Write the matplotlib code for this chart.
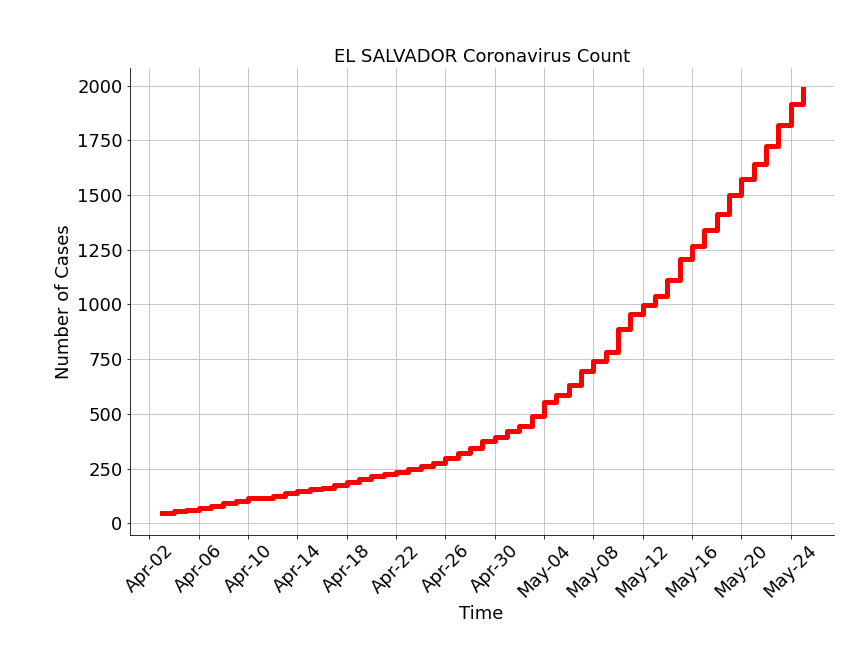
import numpy as np
import pandas as pd
import matplotlib
matplotlib.use("Agg")
import matplotlib.pyplot as plt
import matplotlib.dates as mdates

dates = pd.date_range("2020-04-03", "2020-05-25", freq="D")
cases = [46, 56, 62, 69, 78, 93, 103, 117, 118, 125, 137, 149, 159, 164, 177,
         190, 201, 218, 225, 237, 250, 263, 274, 298, 323, 345, 377, 395,
         424, 446, 490, 555, 587, 633, 695, 742, 784, 889, 958, 998, 1037,
         1112, 1210, 1265, 1338, 1413, 1498, 1571, 1640, 1725, 1819, 1915, 1983]

fig, ax = plt.subplots(figsize=(12, 9), dpi=72)
ax.plot(dates, cases, color="red", lw=5, drawstyle="steps-post")
ax.set_title("EL SALVADOR Coronavirus Count", fontsize=18)
ax.set_xlabel("Time", fontsize=18)
ax.set_ylabel("Number of Cases", fontsize=18)
ax.xaxis.set_major_locator(mdates.DayLocator(interval=4))
ax.xaxis.set_major_formatter(mdates.DateFormatter("%b-%d"))
ax.tick_params(labelsize=18)
plt.setp(ax.get_xticklabels(), rotation=45)
ax.set_xlim(dates[0] - pd.Timedelta(days=2.6), dates[-1] + pd.Timedelta(days=2.5))
ax.grid(True, color="#bbbbbb")
ax.spines["top"].set_visible(False)
ax.spines["right"].set_visible(False)
fig.subplots_adjust(left=0.15, right=0.965, top=0.895, bottom=0.175)
fig.savefig("out.png")
